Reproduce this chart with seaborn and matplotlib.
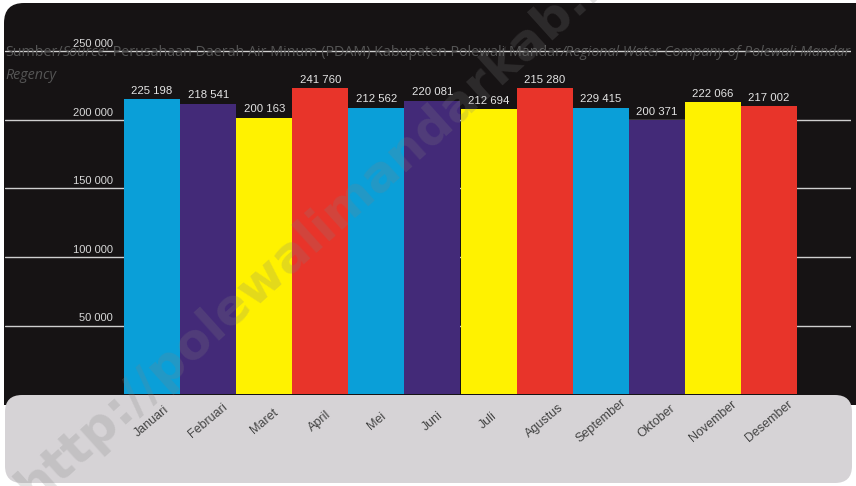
import matplotlib
matplotlib.use("Agg")
import matplotlib.pyplot as plt
from matplotlib.patches import FancyBboxPatch, Rectangle
import seaborn as sns
import pandas as pd

# ---- data ----
months = ["Januari", "Februari", "Maret", "April", "Mei", "Juni", "Juli",
          "Agustus", "September", "Oktober", "November", "Desember"]
# bar heights
bar_values = [215300, 211700, 201500, 223000, 208800, 213900, 208000,
              223000, 208800, 200000, 213000, 210000]
# numbers printed above the bars
value_labels = ["225 198", "218 541", "200 163", "241 760", "212 562", "220 081",
                "212 694", "215 280", "229 415", "200 371", "222 066", "217 002"]
y_ticks = [50000, 100000, 150000, 200000, 250000]
y_tick_labels = ["50 000", "100 000", "150 000", "200 000", "250 000"]
bar_colors = ["#0a9fd8", "#432a78", "#fff200", "#e8342a"] * 3
source_segments = [("Sumber/", "normal"), ("Source:", "italic"),
                   (" Perusahaan Daerah Air Minum (PDAM) Kabupaten Polewali Mandar", "normal"),
                   ("/Regional Water Company of Polewali Mandar", "italic")]
source_line2 = "Regency"
watermark = "http://polewalimandarkab.bps.go.id"

W, H = 856, 486
sns.set_theme(style="dark")
plt.rcParams["font.family"] = ["Liberation Sans", "DejaVu Sans"]

fig = plt.figure(figsize=(W / 100, H / 100), dpi=100, facecolor="white")

# background panels (pixel coordinates)
bg = fig.add_axes([0, 0, 1, 1], zorder=0)
bg.set_xlim(0, W)
bg.set_ylim(H, 0)
bg.axis("off")
bg.add_patch(FancyBboxPatch((4, 3), 900, 380, boxstyle="round,pad=0,rounding_size=20",
                            fc="#161314", ec="none"))
bg.add_patch(Rectangle((4, 360), 852, 45, fc="#161314", ec="none"))
bg.add_patch(FancyBboxPatch((5, 395), 847, 88, boxstyle="round,pad=0,rounding_size=17",
                            fc="#d6d3d6", ec="none"))

# main axes
y0_px, ytop_px = 394, 5
px_per_50k = 68.5
ymax = (y0_px - ytop_px) / px_per_50k * 50000
ax = fig.add_axes([5 / W, (H - y0_px) / H, 846 / W, (y0_px - ytop_px) / H], zorder=1)
ax.patch.set_alpha(0)

df = pd.DataFrame({"month": months, "value": bar_values})
sns.barplot(data=df, x="month", y="value", hue="month", palette=bar_colors,
            saturation=1, width=1.0, linewidth=0, legend=False, ax=ax, zorder=3)

bar_w_px = (797 - 124) / 12
left_units = (124 - 5) / bar_w_px
right_units = (851 - 797) / bar_w_px
ax.set_xlim(-0.5 - left_units, 11.5 + right_units)
ax.set_ylim(0, ymax)

for v in y_ticks:
    ax.axhline(v, color="#cfcfcf", lw=1.0, zorder=1)
ax.set_yticks([])
ax.grid(False)
for s in ax.spines.values():
    s.set_visible(False)

lab_x = (113 - 5) / 846
for v, t in zip(y_ticks, y_tick_labels):
    ax.text(lab_x, v + 1500, t, transform=ax.get_yaxis_transform(), ha="right",
            va="bottom", fontsize=8, color="#d8d8d8", zorder=4)

# value labels above each bar
bars = [p for c in ax.containers for p in c]
for p, lab in zip(bars, value_labels):
    ax.annotate(lab, (p.get_x() + p.get_width() / 2, p.get_height()),
                xytext=(0, 2.5), textcoords="offset points", ha="center", va="bottom",
                fontsize=8.2, color="#e4e4e4", zorder=5)

ax.set_xlabel("")
ax.set_ylabel("")
ax.set_xticks(range(len(months)))
ax.set_xticklabels(months, rotation=40, ha="center", va="center",
                   rotation_mode="anchor", fontsize=9, color="#444444")
ax.tick_params(axis="x", length=0, pad=19.5)

# source text with mixed italic segments
renderer = fig.canvas.get_renderer()
fs = 9.5
tmp = []
x = 0
for txt, st in source_segments:
    t = fig.text(0, 0, txt, fontsize=fs, style=st, family="Open Sans")
    x += t.get_window_extent(renderer).width
    tmp.append(t)
for t in tmp:
    t.remove()
fs = fs * 856 / x
xpix = 5
ybase = H - 56
for txt, st in source_segments:
    t = fig.text(xpix / W, ybase / H, txt, fontsize=fs, style=st, family="Open Sans",
                 color="#555555", va="baseline", ha="left", zorder=6)
    xpix += t.get_window_extent(renderer).width
fig.text(5 / W, (H - 79) / H, source_line2, fontsize=fs, style="italic",
         family="Open Sans", color="#555555", va="baseline", ha="left", zorder=6)

# watermark
fig.text(400 / W, 1 - 155 / H, watermark, rotation=42, fontsize=36, fontweight="bold",
         family="DejaVu Sans", color="#808080", alpha=0.22, ha="center", va="center",
         zorder=10)

fig.savefig("out.png", dpi=100, facecolor="white")
